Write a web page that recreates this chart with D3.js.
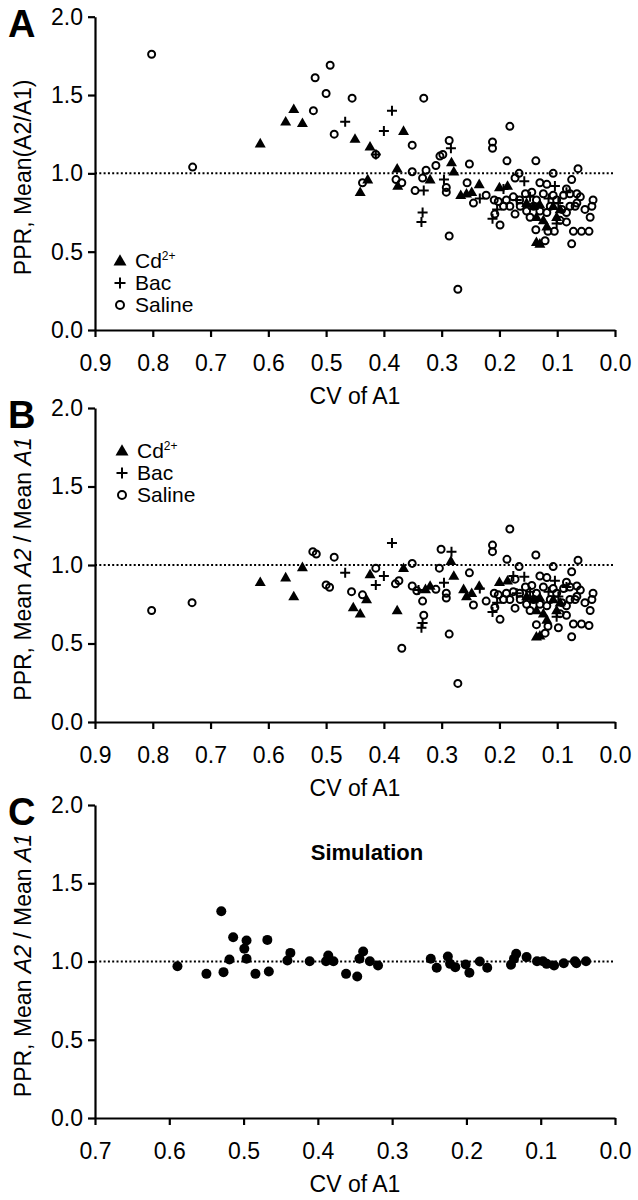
<!DOCTYPE html>
<html><head><meta charset="utf-8">
<script src="https://cdn.jsdelivr.net/npm/d3@7"></script>
<style>
body{margin:0;background:#fff;}
svg{display:block;font-family:"Liberation Sans",Arial,sans-serif;}
</style></head>
<body>
<svg id="chart" width="638" height="1200"></svg>
<script>
// ---------- DATA ----------
const xTicksAB = [0.9,0.8,0.7,0.6,0.5,0.4,0.3,0.2,0.1,0.0];
const xTicksC  = [0.7,0.6,0.5,0.4,0.3,0.2,0.1,0.0];
const yTicks   = [0.0,0.5,1.0,1.5,2.0];
const legendLabels = ["Cd", "Bac", "Saline"];

// Panel A: [CV of A1, PPR]
const cdA = [[0.614,1.19],[0.570,1.33],[0.556,1.41],[0.541,1.32],[0.450,1.22],[0.366,1.27],[0.424,1.17],[0.428,0.96],[0.441,0.88],[0.377,1.03],[0.376,0.92],[0.320,0.96],[0.283,1.07],[0.279,1.01],[0.267,0.86],[0.257,0.87],[0.248,0.88],[0.235,0.93],[0.200,0.91],[0.186,0.92],[0.136,0.56],[0.141,0.79],[0.130,0.80],[0.107,0.79],[0.095,0.77],[0.101,0.72],[0.124,0.70],[0.136,0.72],[0.153,0.81],[0.118,0.66],[0.130,0.55]];
const bacA = [[0.467,1.33],[0.386,1.40],[0.400,1.27],[0.414,1.12],[0.331,0.89],[0.333,0.75],[0.335,0.69],[0.284,1.16],[0.296,0.96],[0.234,0.84],[0.212,0.71],[0.204,0.77],[0.193,0.90],[0.157,0.95],[0.104,0.92],[0.147,0.85],[0.115,0.84],[0.084,0.88],[0.101,0.68],[0.098,0.81],[0.170,0.83]];
const salA = [[0.802,1.76],[0.731,1.04],[0.522,1.40],[0.519,1.61],[0.493,1.69],[0.500,1.51],[0.455,1.48],[0.486,1.25],[0.331,1.48],[0.414,1.12],[0.351,1.18],[0.437,0.94],[0.379,0.96],[0.369,0.94],[0.351,1.01],[0.327,1.02],[0.333,0.97],[0.346,0.89],[0.310,1.05],[0.303,1.11],[0.298,1.12],[0.287,1.21],[0.292,0.91],[0.292,0.88],[0.287,0.60],[0.272,0.26],[0.252,1.06],[0.256,0.94],[0.245,0.81],[0.223,0.86],[0.212,1.20],[0.212,1.16],[0.182,1.30],[0.187,1.08],[0.209,0.83],[0.208,0.74],[0.199,0.67],[0.176,0.85],[0.182,0.79],[0.173,0.74],[0.173,0.97],[0.166,1.00],[0.137,1.08],[0.107,1.00],[0.064,1.03],[0.075,0.96],[0.121,0.57],[0.075,0.55],[0.072,0.63],[0.058,0.63],[0.045,0.63],[0.084,0.69],[0.137,0.64],[0.116,0.63],[0.105,0.63],[0.038,0.83],[0.040,0.79],[0.043,0.72],[0.052,0.77],[0.066,0.87],[0.066,0.81],[0.202,0.82],[0.193,0.79],[0.188,0.83],[0.164,0.79],[0.153,0.76],[0.144,0.88],[0.141,0.79],[0.130,0.94],[0.118,0.93],[0.107,0.86],[0.089,0.86],[0.084,0.90],[0.078,0.87],[0.078,0.79],[0.069,0.79],[0.130,0.76],[0.147,0.72],[0.118,0.75],[0.101,0.83],[0.092,0.77],[0.084,0.75],[0.136,0.83],[0.124,0.87],[0.112,0.79],[0.095,0.70],[0.060,0.85],[0.155,0.87],[0.165,0.83]];

// Panel B
const cdB = [[0.614,0.89],[0.570,0.92],[0.556,0.80],[0.541,0.985],[0.453,0.73],[0.441,0.69],[0.430,0.78],[0.424,0.94],[0.366,0.98],[0.377,0.71],[0.320,0.866],[0.328,0.845],[0.284,1.025],[0.279,0.93],[0.262,0.845],[0.257,0.80],[0.248,0.82],[0.235,0.866],[0.200,0.89],[0.186,0.90],[0.136,0.543],[0.141,0.78],[0.130,0.79],[0.107,0.78],[0.095,0.76],[0.101,0.71],[0.124,0.69],[0.136,0.71],[0.153,0.80],[0.118,0.65],[0.130,0.55]];
const bacB = [[0.467,0.951],[0.386,1.14],[0.400,0.93],[0.414,0.873],[0.333,0.63],[0.335,0.60],[0.283,1.085],[0.296,0.887],[0.234,0.85],[0.212,0.70],[0.204,0.76],[0.176,0.93],[0.157,0.925],[0.104,0.90],[0.147,0.83],[0.115,0.83],[0.084,0.86],[0.101,0.67],[0.098,0.80],[0.170,0.82],[0.340,0.84]];
const salB = [[0.802,0.71],[0.732,0.76],[0.523,1.085],[0.517,1.07],[0.486,1.05],[0.500,0.873],[0.494,0.858],[0.456,0.83],[0.437,0.81],[0.414,0.98],[0.351,1.01],[0.380,0.88],[0.374,0.90],[0.369,0.47],[0.351,0.866],[0.343,0.836],[0.333,0.77],[0.331,0.68],[0.310,0.845],[0.301,1.10],[0.304,0.98],[0.292,0.82],[0.292,0.79],[0.287,0.56],[0.272,0.246],[0.252,0.95],[0.245,0.745],[0.223,0.77],[0.212,1.127],[0.212,1.085],[0.182,1.229],[0.187,1.036],[0.137,1.064],[0.107,0.99],[0.064,1.03],[0.075,0.957],[0.121,0.566],[0.075,0.543],[0.072,0.624],[0.058,0.624],[0.045,0.615],[0.084,0.68],[0.136,0.62],[0.116,0.61],[0.098,0.60],[0.038,0.82],[0.040,0.78],[0.043,0.71],[0.052,0.76],[0.066,0.866],[0.066,0.80],[0.208,0.73],[0.209,0.82],[0.199,0.654],[0.173,0.91],[0.166,0.99],[0.176,0.83],[0.182,0.78],[0.173,0.725],[0.202,0.81],[0.193,0.78],[0.188,0.82],[0.164,0.78],[0.153,0.75],[0.144,0.87],[0.141,0.78],[0.130,0.93],[0.118,0.92],[0.107,0.85],[0.089,0.85],[0.084,0.89],[0.078,0.86],[0.078,0.78],[0.069,0.78],[0.130,0.75],[0.147,0.71],[0.118,0.74],[0.101,0.82],[0.092,0.76],[0.084,0.74],[0.136,0.82],[0.124,0.86],[0.112,0.78],[0.095,0.69],[0.060,0.84],[0.155,0.86],[0.165,0.82]];

// Panel C (simulation)
const simC = [[0.589,0.970],[0.550,0.921],[0.530,1.321],[0.527,0.932],[0.519,1.013],[0.514,1.155],[0.499,1.081],[0.496,1.134],[0.496,1.017],[0.484,0.921],[0.468,1.138],[0.466,0.936],[0.441,1.006],[0.437,1.055],[0.411,1.002],[0.389,1.002],[0.386,1.038],[0.379,1.002],[0.362,0.921],[0.347,0.904],[0.344,1.017],[0.339,1.064],[0.330,1.002],[0.319,0.974],[0.248,1.017],[0.240,0.960],[0.225,1.032],[0.222,0.985],[0.215,0.964],[0.201,0.981],[0.196,0.928],[0.182,1.000],[0.172,0.960],[0.140,0.979],[0.136,1.017],[0.133,1.049],[0.119,1.028],[0.105,1.002],[0.097,1.002],[0.092,0.985],[0.082,0.974],[0.069,0.989],[0.054,1.002],[0.052,0.989],[0.039,1.002]];

// ---------- DRAW ----------
const svg = d3.select("#chart");
const FONT = "23px";
const left = 95, right = 615;

function triPath(s){ const h=s*0.87; return `M0,${-h*0.6}L${s/2},${h*0.4}L${-s/2},${h*0.4}Z`; }
function plusPath(s){ const a=s/2; return `M${-a},0H${a}M0,${-a}V${a}`; }

function drawMarks(g, data, x, y, kind, size){
  const sel = g.append("g").selectAll("path").data(data).join("path")
    .attr("transform", d => `translate(${x(d[0])},${y(d[1])})`);
  if(kind==="tri") sel.attr("d", triPath(size)).attr("fill","#000");
  else if(kind==="plus") sel.attr("d", plusPath(size)).attr("fill","none").attr("stroke","#000").attr("stroke-width",2);
  else if(kind==="circ") sel.attr("d", d3.symbol(d3.symbolCircle, Math.PI*size*size)()).attr("fill","none").attr("stroke","#000").attr("stroke-width",2);
  else if(kind==="dot") sel.attr("d", d3.symbol(d3.symbolCircle, Math.PI*size*size)()).attr("fill","#000");
}

function panel(o){
  const x = d3.scaleLinear().domain([o.xmax,0]).range([left,right]);
  const y = d3.scaleLinear().domain([0,2]).range([o.bottom,o.top]);
  const g = svg.append("g");

  // dotted reference line at 1.0
  g.append("line").attr("x1",left).attr("x2",right).attr("y1",y(1)).attr("y2",y(1))
    .attr("stroke","#000").attr("stroke-width",2).attr("stroke-dasharray","2,2.3");

  const xa = g.append("g").attr("transform",`translate(0,${o.bottom})`)
    .call(d3.axisBottom(x).tickValues(o.xticks).tickFormat(d3.format(".1f")).tickSize(7).tickSizeOuter(0).tickPadding(18));
  const ya = g.append("g").attr("transform",`translate(${left},0)`)
    .call(d3.axisLeft(y).tickValues(yTicks).tickFormat(d3.format(".1f")).tickSize(7).tickSizeOuter(0).tickPadding(5));
  [xa,ya].forEach(a=>{
    a.selectAll("path,line").attr("stroke","#000").attr("stroke-width",2.2);
    a.selectAll("text").attr("fill","#000").style("font-size",FONT).style("font-family","'Liberation Sans',Arial,sans-serif");
  });

  // axis titles
  g.append("text").attr("x",(left+right)/2).attr("y",o.bottom+74).attr("text-anchor","middle")
    .style("font-size","23px").text("CV of A1");
  const yt = g.append("text").attr("transform",`translate(31,${(o.top+o.bottom)/2+4}) rotate(-90)`)
    .attr("text-anchor","middle").style("font-size","23px");
  o.ytitle.forEach(p => yt.append("tspan").style("font-style",p[1]?"italic":"normal").text(p[0]));

  // panel letter
  g.append("text").attr("x",8).attr("y",o.top+20).style("font-size","38px").style("font-weight","bold").text(o.letter);

  return {g,x,y};
}

function legend(g, lx, ly){
  const rows = [["tri",0],["plus",1],["circ",2]];
  rows.forEach(([k,i])=>{
    const cy = ly + i*22;
    const s = g.append("path").attr("transform",`translate(${lx},${cy-7})`);
    if(k==="tri") s.attr("d",triPath(13)).attr("fill","#000");
    if(k==="plus") s.attr("d",plusPath(11)).attr("fill","none").attr("stroke","#000").attr("stroke-width",2);
    if(k==="circ") s.attr("d",d3.symbol(d3.symbolCircle,Math.PI*16)()).attr("fill","none").attr("stroke","#000").attr("stroke-width",2);
    const t = g.append("text").attr("x",lx+15).attr("y",cy).style("font-size","21px").text(legendLabels[i]);
    if(i===0) t.append("tspan").attr("dy","-8").style("font-size","12px").text("2+");
  });
}

// Panel A
const pA = panel({top:16.7,bottom:330,xmax:0.9,xticks:xTicksAB,letter:"A",ytitle:[["PPR, Mean(A2/A1)",false]]});
drawMarks(pA.g, salA, pA.x, pA.y, "circ", 3.5);
drawMarks(pA.g, bacA, pA.x, pA.y, "plus", 10);
drawMarks(pA.g, cdA, pA.x, pA.y, "tri", 11);
legend(pA.g, 120, 268);

// Panel B
const pB = panel({top:408,bottom:722,xmax:0.9,xticks:xTicksAB,letter:"B",ytitle:[["PPR, Mean ",false],["A2",true],[" / Mean ",false],["A1",true]]});
drawMarks(pB.g, salB, pB.x, pB.y, "circ", 3.5);
drawMarks(pB.g, bacB, pB.x, pB.y, "plus", 10);
drawMarks(pB.g, cdB, pB.x, pB.y, "tri", 11);
legend(pB.g, 122, 458);

// Panel C
const pC = panel({top:805,bottom:1118,xmax:0.7,xticks:xTicksC,letter:"C",ytitle:[["PPR, Mean ",false],["A2",true],[" / Mean ",false],["A1",true]]});
drawMarks(pC.g, simC, pC.x, pC.y, "dot", 5);
pC.g.append("text").attr("x",367).attr("y",860).attr("text-anchor","middle")
  .style("font-size","22px").style("font-weight","bold").text("Simulation");
</script>
</body></html>
